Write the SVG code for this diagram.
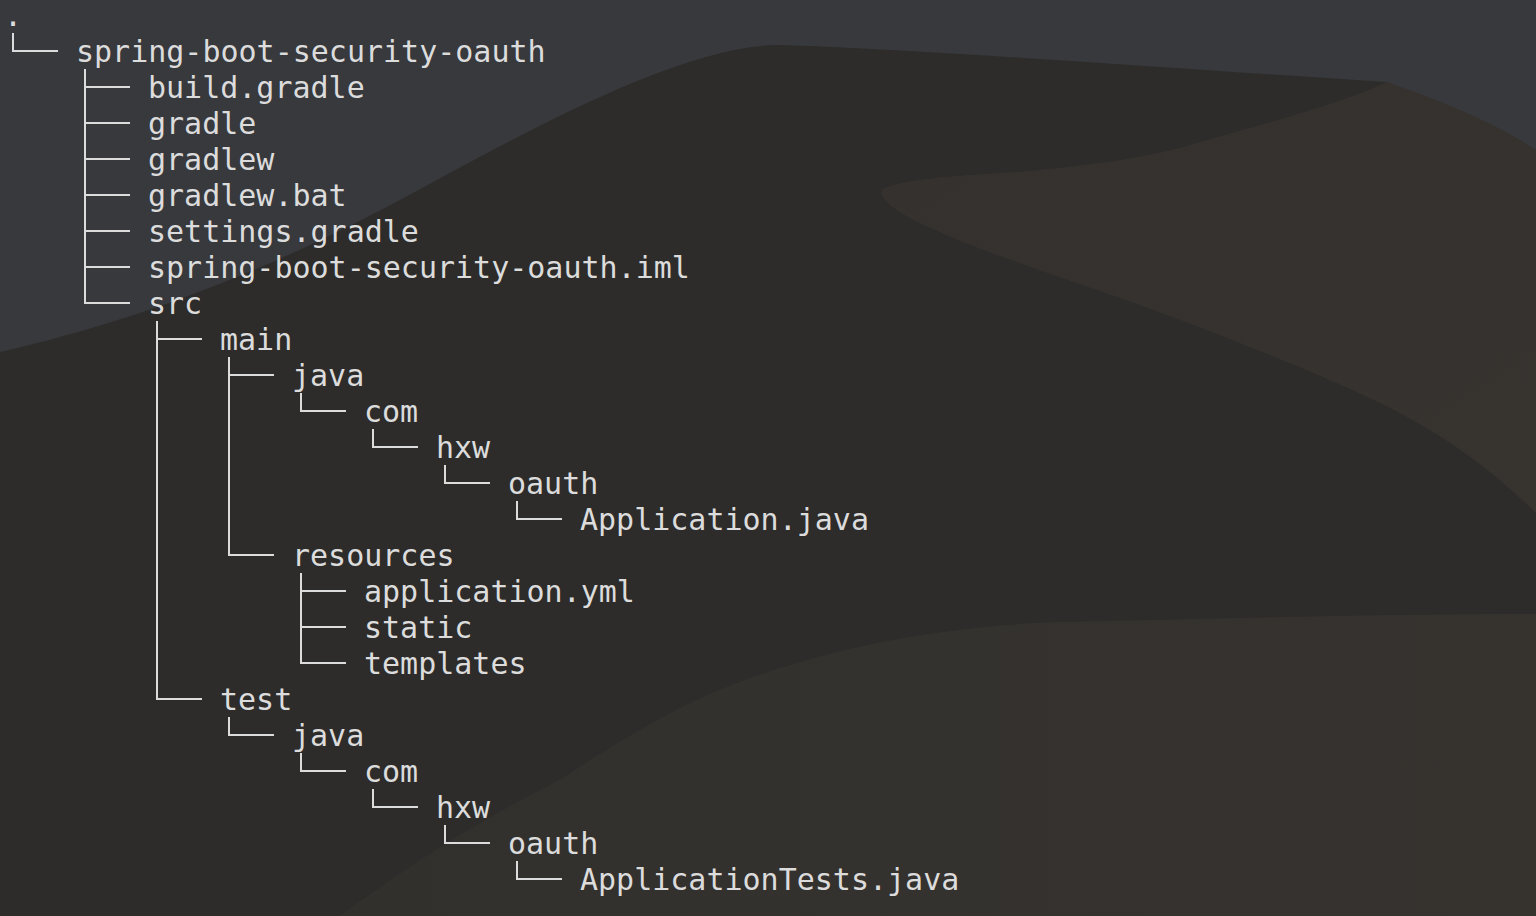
<svg xmlns="http://www.w3.org/2000/svg" width="1536" height="916" viewBox="0 0 1536 916">
<defs>
<style>
.t{font-family:"DejaVu Sans Mono","Liberation Mono",monospace;font-size:30px;fill:#dcdcdc}
.c path{fill:none;stroke:#dcdcdc;stroke-width:2;stroke-linejoin:miter;stroke-linecap:butt}
</style>
<linearGradient id="gR" x1="0" y1="0" x2="1" y2="1">
<stop offset="0" stop-color="#34312e"/>
<stop offset="1" stop-color="#37332f"/>
</linearGradient>
<linearGradient id="gF" x1="0" y1="0" x2="1" y2="0">
<stop offset="0" stop-color="#32302d"/>
<stop offset="1" stop-color="#36332f"/>
</linearGradient>
</defs>
<g id="background">
<rect x="0" y="0" width="1536" height="916" fill="#37393c"/>
<path d="M0 352 C120 325 250 280 400 200 C520 135 680 45 779 45 C900 48 1200 70 1387 82 L1536 150 L1536 916 L0 916 Z" fill="#2d2c2a"/>
<path d="M1387 82 C1440 100 1500 125 1536 150 L1536 513 C1500 478 1460 445 1400 413 C1340 382 1270 355 1197 326 C1120 296 1020 265 958 240 C920 224 878 205 882 190 C895 180 960 175 1018 172 C1100 165 1160 155 1197 143 C1280 120 1350 100 1387 82 Z" fill="url(#gR)"/>
<path d="M340 916 C430 850 500 810 560 780 C620 740 680 705 727 687 C780 666 840 650 893 640 C950 630 1000 624 1060 622 C1250 618 1400 614 1536 614 L1536 916 Z" fill="url(#gF)"/>
</g>
<g id="connectors" class="c">
<path d="M13 33 V51 H58"/>
<path d="M85 69 V87 H130"/>
<path d="M85 69 V123 H130"/>
<path d="M85 69 V159 H130"/>
<path d="M85 69 V195 H130"/>
<path d="M85 69 V231 H130"/>
<path d="M85 69 V267 H130"/>
<path d="M85 69 V303 H130"/>
<path d="M157 321 V339 H202"/>
<path d="M157 321 V699 H202"/>
<path d="M229 357 V375 H274"/>
<path d="M229 357 V555 H274"/>
<path d="M301 393 V411 H346"/>
<path d="M373 429 V447 H418"/>
<path d="M445 465 V483 H490"/>
<path d="M517 501 V519 H562"/>
<path d="M301 573 V591 H346"/>
<path d="M301 573 V627 H346"/>
<path d="M301 573 V663 H346"/>
<path d="M229 717 V735 H274"/>
<path d="M301 753 V771 H346"/>
<path d="M373 789 V807 H418"/>
<path d="M445 825 V843 H490"/>
<path d="M517 861 V879 H562"/>
</g>
<g id="n-root"><text class="t" x="4" y="26">.</text></g>
<g id="n-project"><text class="t" x="76" y="62">spring-boot-security-oauth</text></g>
<g id="n-build-gradle"><text class="t" x="148" y="98">build.gradle</text></g>
<g id="n-gradle"><text class="t" x="148" y="134">gradle</text></g>
<g id="n-gradlew"><text class="t" x="148" y="170">gradlew</text></g>
<g id="n-gradlew-bat"><text class="t" x="148" y="206">gradlew.bat</text></g>
<g id="n-settings"><text class="t" x="148" y="242">settings.gradle</text></g>
<g id="n-iml"><text class="t" x="148" y="278">spring-boot-security-oauth.iml</text></g>
<g id="n-src"><text class="t" x="148" y="314">src</text></g>
<g id="n-main"><text class="t" x="220" y="350">main</text></g>
<g id="n-main-java"><text class="t" x="292" y="386">java</text></g>
<g id="n-main-com"><text class="t" x="364" y="422">com</text></g>
<g id="n-main-hxw"><text class="t" x="436" y="458">hxw</text></g>
<g id="n-main-oauth"><text class="t" x="508" y="494">oauth</text></g>
<g id="n-application"><text class="t" x="580" y="530">Application.java</text></g>
<g id="n-resources"><text class="t" x="292" y="566">resources</text></g>
<g id="n-app-yml"><text class="t" x="364" y="602">application.yml</text></g>
<g id="n-static"><text class="t" x="364" y="638">static</text></g>
<g id="n-templates"><text class="t" x="364" y="674">templates</text></g>
<g id="n-test"><text class="t" x="220" y="710">test</text></g>
<g id="n-test-java"><text class="t" x="292" y="746">java</text></g>
<g id="n-test-com"><text class="t" x="364" y="782">com</text></g>
<g id="n-test-hxw"><text class="t" x="436" y="818">hxw</text></g>
<g id="n-test-oauth"><text class="t" x="508" y="854">oauth</text></g>
<g id="n-app-tests"><text class="t" x="580" y="890">ApplicationTests.java</text></g>
</svg>
